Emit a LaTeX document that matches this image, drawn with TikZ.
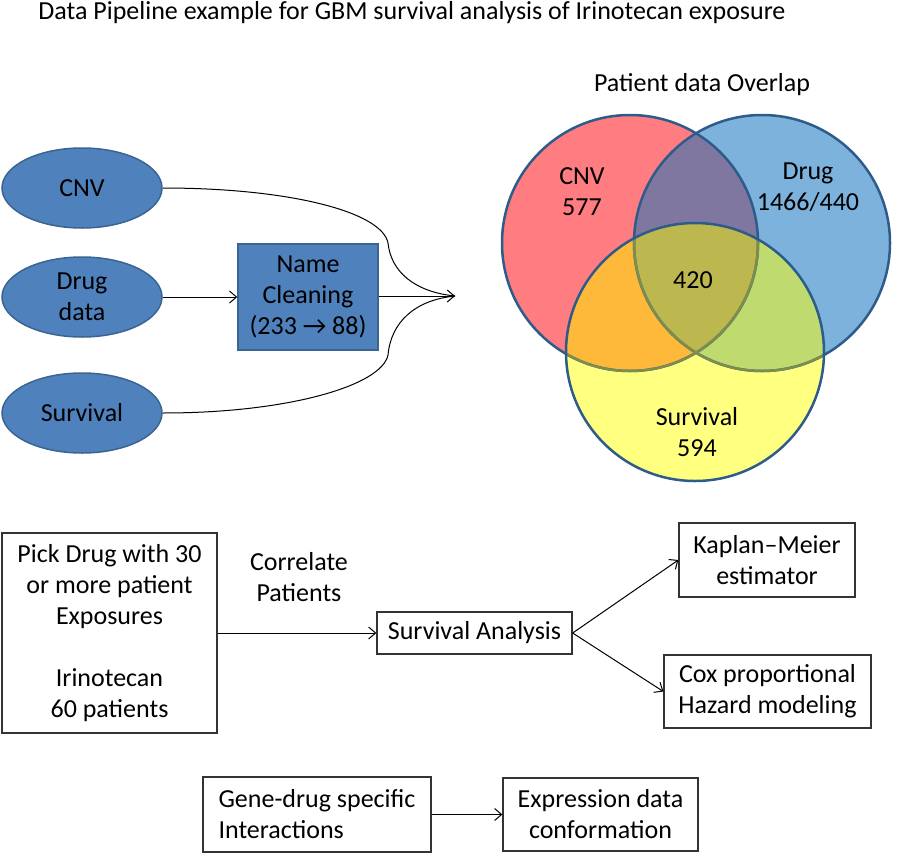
\documentclass[tikz,border=0pt]{standalone}
\usepackage{fontspec}
\setmainfont{Carlito}
\usetikzlibrary{arrows.meta,shapes.geometric}
\definecolor{ellfill}{HTML}{4F81BD}
\definecolor{ellborder}{HTML}{3A6491}
\definecolor{cnvc}{HTML}{FF7C80}
\definecolor{drugc}{HTML}{7DB2DD}
\definecolor{survc}{HTML}{FFFF80}
\definecolor{cdc}{HTML}{7F77A0}
\definecolor{csc}{HTML}{FFB93A}
\definecolor{dsc}{HTML}{BFDA6E}
\definecolor{allc}{HTML}{BDB74F}
\definecolor{vennborder}{HTML}{2D5C8A}
\definecolor{vennin}{HTML}{7E8C4C}
\tikzset{
  txt/.style={font=\fontsize{26}{31}\selectfont, inner sep=0pt, align=center},
  blueell/.style={txt, ellipse, draw=ellborder, fill=ellfill, line width=1.5pt, minimum width=160pt, minimum height=80pt},
  bluebox/.style={txt, rectangle, draw=ellborder, fill=ellfill, line width=1.5pt},
  wbox/.style={txt, rectangle, draw=black!80, line width=1.3pt},
  conn/.style={line width=1pt, -{Straight Barb[length=7pt,width=12pt,line width=1pt]}},
  plain/.style={line width=1pt},
  vb/.style={line width=2.5pt}
}
\begin{document}
\begin{tikzpicture}[x=1pt,y=-1pt]
\useasboundingbox (0,0) rectangle (897,854);
% title
\node[txt] (title) at (412,13) {Data Pipeline example for GBM survival analysis of Irinotecan exposure};
% left ellipses
\node[blueell] (cnv) at (82,188) {CNV};
\node[blueell] (drug) at (82,297) {Drug\\data};
\node[blueell] (surv) at (82,413) {Survival};
\node[bluebox, minimum width=140pt, minimum height=106pt] (clean) at (308,297) {Name\\Cleaning\\(233 → 88)};
\coordinate (tip) at (455,296);
\draw[conn] (drug.east) -- (clean.west);
\draw[conn] (clean.east |- tip) -- (tip);
\draw[plain] (cnv.east) .. controls (290,188) and (382,212) .. (388,243) .. controls (391,272) and (415,292) .. (tip);
\draw[plain] (surv.east) .. controls (290,413) and (382,385) .. (388,355) .. controls (391,322) and (415,300) .. (tip);
% Venn
\coordinate (C) at (630,243);
\coordinate (D) at (762,243);
\coordinate (S) at (695,352);
\node[txt] (vtitle) at (702,85) {Patient data Overlap};
\fill[cnvc] (C) circle[radius=128pt];
\fill[drugc] (D) circle[radius=128pt];
\begin{scope}
  \clip (C) circle[radius=128pt];
  \fill[cdc] (D) circle[radius=128pt];
\end{scope}
\fill[survc] (S) circle[radius=129pt];
\begin{scope}
  \clip (S) circle[radius=129pt];
  \fill[csc] (C) circle[radius=128pt];
  \fill[dsc] (D) circle[radius=128pt];
  \clip (C) circle[radius=128pt];
  \fill[allc] (D) circle[radius=128pt];
\end{scope}
\draw[vb, vennborder] (C) circle[radius=128pt];
\draw[vb, vennborder] (D) circle[radius=128pt];
\begin{scope}
  \clip (S) circle[radius=129pt];
  \draw[vb, vennin] (C) circle[radius=128pt];
  \draw[vb, vennin] (D) circle[radius=128pt];
\end{scope}
\draw[vb, vennborder] (S) circle[radius=129pt];
\node[txt] (vcnv) at (582,192) {CNV\\577};
\node[txt] (vdrug) at (808,187) {Drug\\1466/440};
\node[txt] (vall) at (693,280) {420};
\node[txt] (vsurv) at (697,432) {Survival\\594};
% bottom section
\node[wbox, minimum width=215pt, minimum height=200pt] (pick) at (109.5,633) {Pick Drug with 30\\or more patient\\Exposures\\[31pt]Irinotecan\\60 patients};
\node[txt] (corr) at (299,577) {Correlate\\Patients};
\node[wbox, minimum width=195pt, minimum height=42pt] (sa) at (474.5,633) {Survival Analysis};
\node[wbox, minimum width=176pt, minimum height=74pt] (km) at (767,560) {Kaplan–Meier\\estimator};
\node[wbox, minimum width=207pt, minimum height=73pt] (cox) at (767.5,691.5) {Cox proportional\\Hazard modeling};
\node[wbox, minimum width=228pt, minimum height=75pt, align=left] (gene) at (317,814.5) {Gene-drug specific\\Interactions};
\node[wbox, minimum width=195pt, minimum height=73pt] (expr) at (600.5,814.5) {Expression data\\conformation};
\draw[conn] (pick.east |- sa.west) -- (sa.west);
\draw[conn] (sa.east) -- (km.west);
\draw[conn] (sa.east) -- (cox.west);
\draw[conn] (gene.east) -- (expr.west);
\end{tikzpicture}
\end{document}
